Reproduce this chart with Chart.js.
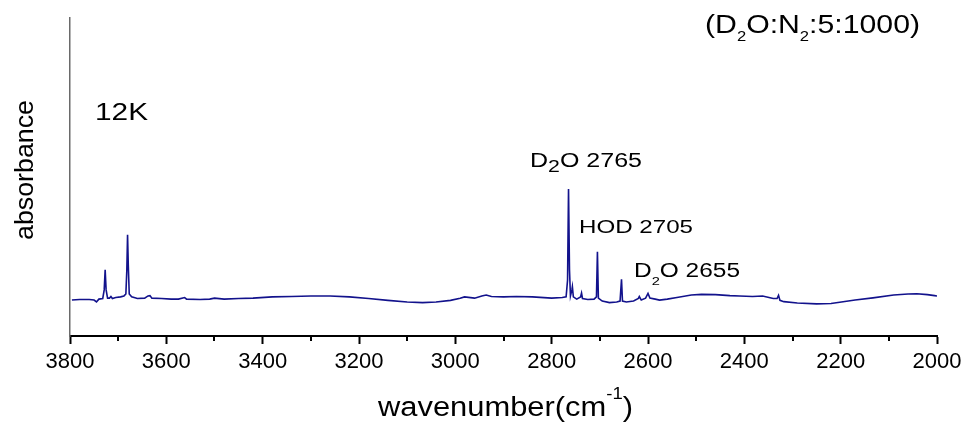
<!DOCTYPE html>
<html lang="en">
<head>
<meta charset="UTF-8">
<title>D2O in N2 matrix, 12K</title>
<script src="https://cdn.jsdelivr.net/npm/chart.js@4.4.1/dist/chart.umd.min.js"></script>
<style>
  body { margin: 0; background: #fff; }
  canvas { display: block; }
</style>
</head>
<body>
<canvas id="spectrum" width="968" height="423"></canvas>
<script>
// wavenumber (cm-1) and absorbance (arb. units)
const wavenumber = [
  3796, 3780, 3760, 3750, 3745, 3740, 3732, 3729, 3727, 3725, 3722, 3718, 3715, 3712,
  3705, 3695, 3688, 3684, 3682, 3680.5, 3679, 3677, 3672, 3660, 3645, 3638, 3634, 3630,
  3610, 3590, 3575, 3562, 3558, 3530, 3510, 3500, 3480, 3450, 3420, 3380, 3340, 3300,
  3260, 3220, 3180, 3140, 3100, 3068, 3040, 3010, 2990, 2981, 2960, 2945, 2936, 2925,
  2900, 2873, 2840, 2800, 2778, 2770, 2767, 2765, 2763, 2761, 2758, 2757, 2755, 2748,
  2740, 2738, 2736, 2725, 2712, 2707, 2705, 2703, 2695, 2680, 2665, 2658, 2655, 2653,
  2645, 2630, 2620, 2618, 2614, 2605, 2600, 2596, 2585, 2576, 2560, 2540, 2510, 2489,
  2460, 2430, 2410, 2383, 2362, 2340, 2332, 2329, 2326, 2318, 2290, 2250, 2220, 2202,
  2170, 2133, 2090, 2060, 2042, 2020, 2005, 2000
];
const absorbance = [
  0.113, 0.115, 0.115, 0.113, 0.107, 0.116, 0.118, 0.145, 0.208, 0.145, 0.119, 0.119, 0.124, 0.118,
  0.121, 0.123, 0.126, 0.132, 0.208, 0.318, 0.223, 0.132, 0.123, 0.118, 0.119, 0.126, 0.127, 0.119,
  0.118, 0.116, 0.116, 0.121, 0.116, 0.115, 0.116, 0.119, 0.116, 0.118, 0.119, 0.123, 0.124, 0.126,
  0.126, 0.123, 0.118, 0.112, 0.107, 0.105, 0.107, 0.112, 0.119, 0.123, 0.119, 0.126, 0.129, 0.124,
  0.123, 0.124, 0.123, 0.119, 0.121, 0.123, 0.176, 0.462, 0.208, 0.126, 0.145, 0.155, 0.123, 0.116,
  0.123, 0.135, 0.118, 0.115, 0.116, 0.123, 0.265, 0.119, 0.110, 0.105, 0.107, 0.110, 0.178, 0.110,
  0.107, 0.110, 0.118, 0.124, 0.113, 0.119, 0.134, 0.119, 0.116, 0.113, 0.116, 0.121, 0.129, 0.131,
  0.130, 0.127, 0.126, 0.124, 0.126, 0.118, 0.118, 0.128, 0.112, 0.108, 0.104, 0.101, 0.102, 0.106,
  0.113, 0.120, 0.129, 0.132, 0.133, 0.130, 0.127, 0.126
];
const xMin = 2000, xMax = 3800;
const majorStep = 200, minorStep = 100;

const FONT = '"Liberation Sans", Arial, Helvetica, sans-serif';

// draws text made of pieces, some sub/superscript, squeezed/stretched to a given width
function richText(ctx, parts, x, y, size, width) {
  const fontOf = p => (p.s ? size * p.s : size) + 'px ' + FONT;
  let natural = 0;
  parts.forEach(p => { ctx.font = fontOf(p); natural += ctx.measureText(p.t).width; });
  ctx.save();
  ctx.translate(x, y);
  ctx.scale(width / natural, 1);
  ctx.fillStyle = '#000';
  ctx.textBaseline = 'alphabetic';
  ctx.textAlign = 'left';
  let cx = 0;
  parts.forEach(p => {
    ctx.font = fontOf(p);
    ctx.fillText(p.t, cx, p.dy ? p.dy * size : 0);
    cx += ctx.measureText(p.t).width;
  });
  ctx.restore();
}

const decorations = {
  id: 'decorations',
  afterDraw(chart) {
    const ctx = chart.ctx;
    const xs = chart.scales.x;
    const base = xs.top;

    // minor ticks
    ctx.save();
    ctx.strokeStyle = '#000';
    ctx.lineWidth = 2;
    for (let v = xMin + minorStep; v < xMax; v += majorStep) {
      const px = Math.round(xs.getPixelForValue(v));
      ctx.beginPath();
      ctx.moveTo(px, base);
      ctx.lineTo(px, base + 5);
      ctx.stroke();
    }
    ctx.restore();

    // annotations
    richText(ctx, [{t: '(D'}, {t: '2', s: 0.55, dy: 0.33}, {t: 'O:N'}, {t: '2', s: 0.55, dy: 0.33}, {t: ':5:1000)'}],
      705, 33, 25, 215);
    richText(ctx, [{t: '12K'}], 95, 120, 24, 53);
    richText(ctx, [{t: 'D'}, {t: '2', s: 0.85, dy: 0.27}, {t: 'O 2765'}], 530, 167, 20, 112);
    richText(ctx, [{t: 'HOD 2705'}], 579, 233, 19, 114);
    richText(ctx, [{t: 'D'}, {t: '2', s: 0.6, dy: 0.4}, {t: 'O 2655'}], 634, 277, 19.5, 106);

    // axis titles
    richText(ctx, [{t: 'wavenumber(cm'}, {t: '-1', s: 0.6, dy: -0.62}, {t: ')'}], 378, 416, 27, 255);

    ctx.save();
    ctx.translate(33, 240);
    ctx.rotate(-Math.PI / 2);
    ctx.font = '26px ' + FONT;
    const w = ctx.measureText('absorbance').width;
    ctx.scale(140 / w, 1);
    ctx.fillStyle = '#000';
    ctx.textBaseline = 'alphabetic';
    ctx.fillText('absorbance', 0, 0);
    ctx.restore();
  }
};

const points = wavenumber.map((wn, i) => ({x: wn, y: absorbance[i]}));

new Chart(document.getElementById('spectrum'), {
  type: 'line',
  data: {
    datasets: [{
      data: points,
      borderColor: '#12128c',
      borderWidth: 1.6,
      pointRadius: 0,
      tension: 0,
      fill: false
    }]
  },
  options: {
    responsive: false,
    animation: false,
    devicePixelRatio: 1,
    layout: { padding: { top: 18, right: 31, left: 0, bottom: 0 } },
    plugins: { legend: { display: false }, tooltip: { enabled: false } },
    scales: {
      x: {
        type: 'linear',
        reverse: true,
        min: xMin,
        max: xMax,
        position: 'bottom',
        border: { display: true, color: '#000', width: 2 },
        grid: {
          display: true,
          drawOnChartArea: false,
          drawTicks: true,
          tickLength: 8,
          tickWidth: 2,
          tickColor: c => (c.tick && c.tick.value % majorStep === 0) ? '#000' : 'rgba(0,0,0,0)'
        },
        ticks: {
          stepSize: minorStep,
          autoSkip: false,
          maxRotation: 0,
          padding: 5,
          color: '#000',
          font: { family: FONT, size: 22 },
          callback: v => (v % majorStep === 0 ? String(v) : '')
        },
        afterFit: s => { s.height = 87; }
      },
      y: {
        min: 0,
        max: 1,
        border: { display: true, color: '#6a6a6a', width: 1.5 },
        grid: { display: false },
        ticks: { display: false },
        afterFit: s => { s.width = 70; }
      }
    }
  },
  plugins: [decorations]
});
</script>
</body>
</html>
